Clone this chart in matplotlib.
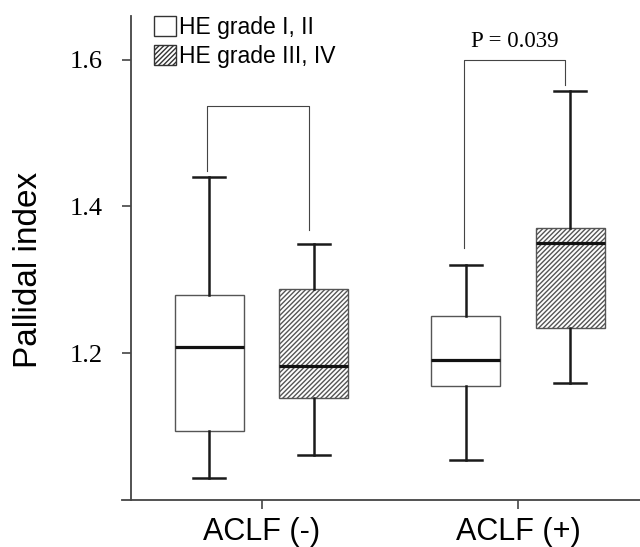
"""Pallidal index by ACLF status and HE grade (box plot)."""
import matplotlib
matplotlib.use('Agg')
import matplotlib.pyplot as plt
from matplotlib.patches import Patch

plt.rcParams.update({
    'font.family': 'Liberation Sans',
    'hatch.linewidth': 1.0,
    'axes.linewidth': 1.3,
})

groups = ['ACLF (-)', 'ACLF (+)']
series = ['HE grade I, II', 'HE grade III, IV']

# per box: [ACLF(-) HE I-II, ACLF(-) HE III-IV, ACLF(+) HE I-II, ACLF(+) HE III-IV]
whis_lo = [1.030, 1.062, 1.054, 1.159]
q1 = [1.094, 1.139, 1.156, 1.235]
median = [1.209, 1.182, 1.191, 1.350]
q3 = [1.279, 1.287, 1.251, 1.370]
whis_hi = [1.440, 1.349, 1.320, 1.558]

# comparison brackets, one per group
bracket_top = [1.537, 1.600]
bracket_left_end = [1.448, 1.343]
bracket_right_end = [1.368, 1.566]
bracket_text = ['', 'P = 0.039']

yticks = [1.2, 1.4, 1.6]

OFFSET = 0.204
WIDTH = 0.269
HATCH = '///////'

fig = plt.figure(figsize=(6.4, 5.47), dpi=100)
ax = fig.add_axes([122 / 640, 1 - 500 / 547, 518 / 640, (500 - 15.7) / 547])

positions = []
for g in range(len(groups)):
    positions += [g + 1 - OFFSET, g + 1 + OFFSET]

stats = []
for i in range(len(median)):
    stats.append({'med': median[i], 'q1': q1[i], 'q3': q3[i],
                  'whislo': whis_lo[i], 'whishi': whis_hi[i], 'fliers': []})

bp = ax.bxp(stats, positions=positions, widths=WIDTH, capwidths=0.125,
            patch_artist=True, showfliers=False,
            boxprops=dict(edgecolor='#555555', linewidth=1.0),
            whiskerprops=dict(color='#1a1a1a', linewidth=1.8),
            capprops=dict(color='#1a1a1a', linewidth=1.8),
            medianprops=dict(color='#111111', linewidth=2.3))

for i, box in enumerate(bp['boxes']):
    box.set_facecolor('white')
    if i % 2 == 1:
        box.set_hatch(HATCH)

for g in range(len(groups)):
    xl = positions[2 * g] - 0.008
    xr = positions[2 * g + 1] - 0.02
    ax.plot([xl, xl, xr, xr],
            [bracket_left_end[g], bracket_top[g], bracket_top[g], bracket_right_end[g]],
            color='#444444', linewidth=0.8)
    if bracket_text[g]:
        ax.text((xl + xr) / 2, bracket_top[g] + 0.025, bracket_text[g],
                ha='center', va='center', fontsize=16.5, family='Liberation Serif')

ax.set_xlim(0.456, 2.476)
ax.set_ylim(1.0, 1.66)
ax.spines['left'].set_position(('data', 0.491))
ax.spines['top'].set_visible(False)
ax.spines['right'].set_visible(False)
for s in ['left', 'bottom']:
    ax.spines[s].set_color('#444444')

ax.set_xticks([1, 2])
ax.set_xticklabels(groups, fontsize=22)
ax.set_yticks(yticks)
ax.set_yticklabels([f'{v:.1f}' for v in yticks], fontsize=19, family='Liberation Serif')
ax.tick_params(axis='y', length=6.5, width=1.2, pad=14, color='#444444')
ax.tick_params(axis='x', length=6.5, width=1.2, pad=5.5, color='#444444')

ax.set_ylabel('Pallidal index', fontsize=24)
ax.yaxis.set_label_coords(-0.150, 0.475)

handles = [Patch(facecolor='white', edgecolor='#333333', linewidth=1.0),
           Patch(facecolor='white', edgecolor='#333333', linewidth=1.0, hatch=HATCH)]
ax.legend(handles, series, loc='upper left', bbox_to_anchor=(0.062, 1.0),
          frameon=False, fontsize=16.5, handlelength=0.95, handleheight=0.95,
          handletextpad=0.15, labelspacing=0.28, borderpad=0, borderaxespad=0)

fig.savefig('out.png', dpi=100)
